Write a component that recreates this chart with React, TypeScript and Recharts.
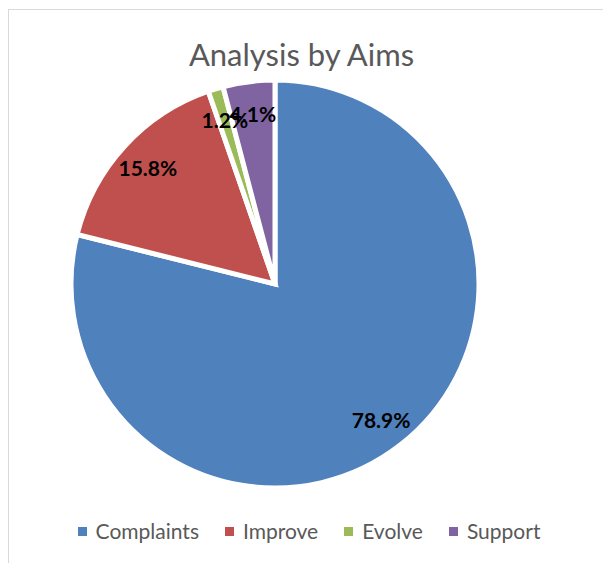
import { PieChart, Pie, Cell, Legend } from 'recharts';

const categories = ['Complaints', 'Improve', 'Evolve', 'Support'];
const shares = [78.9, 15.8, 1.2, 4.1];
const COLORS = ['#4f81bd', '#c0504d', '#9bbb59', '#8064a2'];

const chartData = categories.map((name, i) => ({ name, value: shares[i] }));

const FONT = 'Lato, "Open Sans", sans-serif';
const RAD = Math.PI / 180;

function renderLabel(props: any) {
    const { cx, cy, midAngle, outerRadius, value } = props;
    const r = outerRadius * 0.845;
    const x = cx + r * Math.cos(-midAngle * RAD);
    const y = cy + r * Math.sin(-midAngle * RAD);
    return (
        <text
            x={x}
            y={y}
            fill="#000"
            textAnchor="middle"
            dominantBaseline="central"
            style={{ fontFamily: FONT, fontWeight: 700, fontSize: 21 }}
        >
            {value.toFixed(1)}%
        </text>
    );
}

function LegendContent() {
    return (
        <div style={{ display: 'flex', justifyContent: 'center', gap: 26, fontFamily: FONT, fontSize: 21, color: '#595959', lineHeight: '26px' }}>
            {categories.map((name, i) => (
                <div key={name} style={{ display: 'flex', alignItems: 'center', gap: 9 }}>
                    <span style={{ width: 9, height: 9, backgroundColor: COLORS[i], display: 'inline-block' }} />
                    <span>{name}</span>
                </div>
            ))}
        </div>
    );
}

export default function App() {
    return (
        <div style={{ position: 'absolute', left: 0, top: 0, width: 603, height: 563, overflow: 'hidden', background: '#fff' }}>
            {/* chart frame */}
            <div style={{ position: 'absolute', left: 8, top: 9, width: 640, height: 600, border: '1px solid #d9d9d9' }} />
            <div
                style={{
                    position: 'absolute',
                    left: 0,
                    width: 603,
                    top: 34,
                    textAlign: 'center',
                    fontFamily: FONT,
                    fontSize: 31,
                    color: '#595959',
                    lineHeight: '40px',
                }}
            >
                Analysis by Aims
            </div>
            <PieChart
                width={603}
                height={563}
                margin={{ top: 0, right: 0, bottom: 0, left: 0 }}
                style={{ position: 'absolute', left: 0, top: 0 }}
            >
                <Pie
                    data={chartData}
                    dataKey="value"
                    nameKey="name"
                    cx={275}
                    cy={284}
                    outerRadius={204}
                    startAngle={90}
                    endAngle={-270}
                    stroke="#fff"
                    strokeWidth={5}
                    label={renderLabel}
                    labelLine={false}
                    isAnimationActive={false}
                >
                    {chartData.map((entry, index) => (
                        <Cell key={`cell-${index}`} fill={COLORS[index]} />
                    ))}
                </Pie>
                <Legend
                    content={<LegendContent />}
                    wrapperStyle={{ position: 'absolute', left: 14, width: 590, top: 518 }}
                />
            </PieChart>
        </div>
    );
}
